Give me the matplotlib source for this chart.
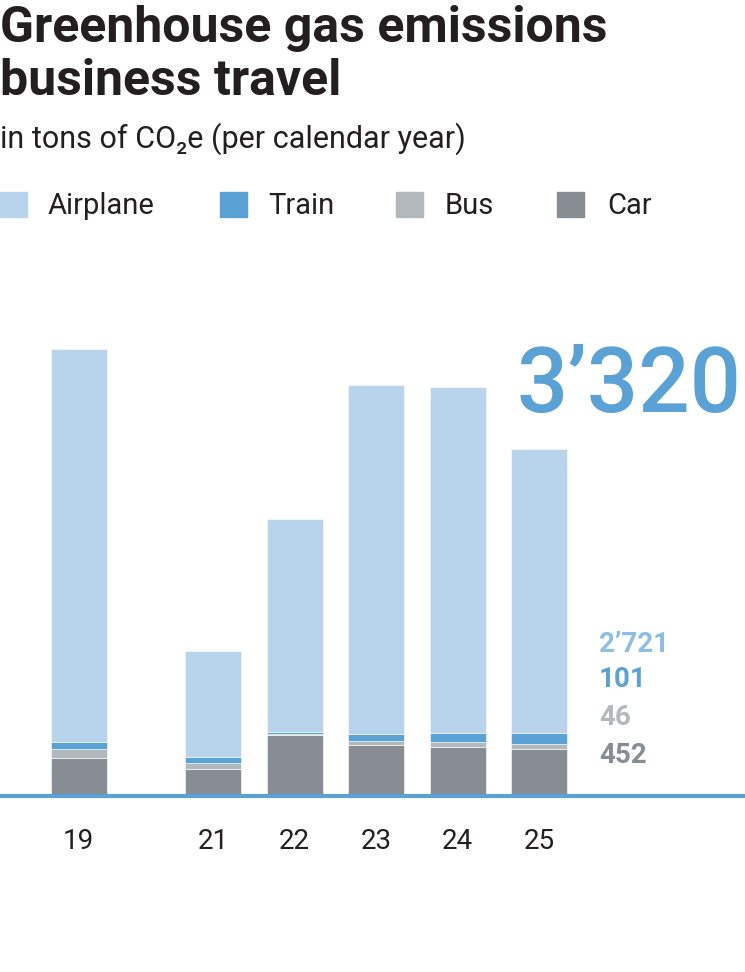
import numpy as np
import matplotlib
matplotlib.use("Agg")
import matplotlib.pyplot as plt
from matplotlib.patches import Rectangle

# Data (tons of CO2e)
years = ["19", "21", "22", "23", "24", "25"]
airplane = [3755, 1020, 2036, 3333, 3304, 2721]
train = [70, 51, 19, 67, 90, 101]
bus = [85, 64, 16, 41, 48, 46]
car = [360, 255, 580, 488, 465, 452]
series_names = ["Airplane", "Train", "Bus", "Car"]
total_2025 = "3\u2019320"
labels_2025 = ["2\u2019721", "101", "46", "452"]

# Colors
c_air = "#b8d3ec"
c_train = "#5aa1d5"
c_bus = "#b2b8bb"
c_car = "#878d93"
c_text = "#231f20"

W, H = 745, 972
fig = plt.figure(figsize=(W / 100, H / 100), dpi=100)

def fx(px):
    return px / W

def fy(px):
    return 1 - px / H

body_font = ["Roboto", "DejaVu Sans"]

# Axes: full width, baseline at y=796 px
base_px = 796
top_px = 300
ax = fig.add_axes([0, fy(base_px), 1, (base_px - top_px) / H])
px_per_ton = 347.3 / 3320
ax.set_ylim(0, (base_px - top_px) / px_per_ton)

# bar positions (gap for 2020)
pos = np.array([0, 1.65, 2.65, 3.65, 4.65, 5.65])
unit_px = 81.5
ax.set_xlim(-78.7 / unit_px, (W - 78.7) / unit_px)
width = 56 / unit_px

bottom = np.zeros(len(years))
for vals, col in [(car, c_car), (bus, c_bus), (train, c_train), (airplane, c_air)]:
    ax.bar(pos, vals, width, bottom=bottom, color=col, edgecolor="white",
           linewidth=0.4, zorder=2)
    bottom += np.array(vals)

for s in ["top", "left", "right"]:
    ax.spines[s].set_visible(False)
ax.spines["bottom"].set_color(c_train)
ax.spines["bottom"].set_linewidth(3)
ax.spines["bottom"].set_zorder(3)
ax.set_yticks([])
ax.set_xticks(pos)
ax.set_xticklabels(years, fontsize=20, color=c_text, family=body_font)
ax.tick_params(axis="x", length=0, pad=23)
ax.patch.set_alpha(0)

# Title and subtitle
fig.text(0, fy(42), "Greenhouse gas emissions", fontsize=36, fontweight="bold",
         color=c_text, family=body_font, va="baseline")
fig.text(0, fy(95), "business travel", fontsize=36, fontweight="bold",
         color=c_text, family=body_font, va="baseline")
fig.text(0, fy(148), "in tons of CO\u2082e (per calendar year)", fontsize=22,
         color=c_text, family=body_font, va="baseline")

# Legend
sq_x = [0, 220, 396, 557]
txt_x = [48, 268, 445, 607]
for name, col, sx, tx in zip(series_names, [c_air, c_train, c_bus, c_car], sq_x, txt_x):
    fig.patches.append(Rectangle((fx(sx), fy(217)), 27 / W, 25 / H, color=col,
                                 transform=fig.transFigure, figure=fig))
    fig.text(fx(tx), fy(214), name, fontsize=21, color=c_text,
             family=body_font, va="baseline")

# 2025 total and breakdown
fig.text(fx(742), fy(412), total_2025, fontsize=65, fontweight="medium",
         color=c_train, family=body_font, va="baseline", ha="right")
lab_cols = ["#8dbde4", c_train, c_bus, c_car]
lab_y = [652, 687, 725, 763]
for lab, col, y in zip(labels_2025, lab_cols, lab_y):
    fig.text(fx(599), fy(y), lab, fontsize=20, fontweight="bold", color=col,
             family=body_font, va="baseline")

fig.savefig("out.png", dpi=100)
